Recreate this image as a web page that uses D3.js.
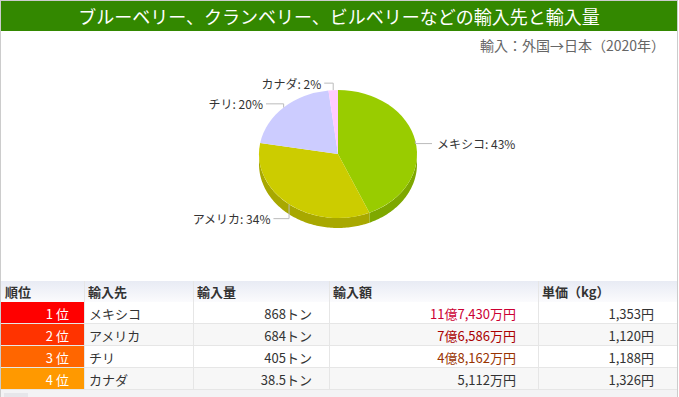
<!DOCTYPE html>
<html>
<head>
<meta charset="utf-8">
<script src="https://cdn.jsdelivr.net/npm/d3@7"></script>
<style>
  body { margin: 0; background: #fff; }
  svg { display: block; font-family: "Noto Sans CJK JP", "Noto Sans", sans-serif; }
</style>
</head>
<body>
<div id="chart"></div>
<script>
// chart texts
const title = "ブルーベリー、クランベリー、ビルベリーなどの輸入先と輸入量";
const subtitle = "輸入：外国→日本（2020年）";

// table / pie data
const headers = ["順位", "輸入先", "輸入量", "輸入額", "単価（kg）"];
const ranks = ["1 位", "2 位", "3 位", "4 位"];
const countries = ["メキシコ", "アメリカ", "チリ", "カナダ"];
const volumes = [868, 684, 405, 38.5]; // tons
const volumeLabels = ["868トン", "684トン", "405トン", "38.5トン"];
const amounts = ["11億7,430万円", "7億6,586万円", "4億8,162万円", "5,112万円"];
const unitPrices = ["1,353円", "1,120円", "1,188円", "1,326円"];

// colours
const sliceColors = ["#99cc00", "#cccc00", "#ccccff", "#ffccff"];
const rankColors = ["#ff0000", "#ff3300", "#ff6600", "#ff9900"];
const amountColors = ["#cc0033", "#aa0000", "#993300", "#333333"];

function draw(id) {
  const W = 679, H = 397;
  const svg = d3.select(`#${id}`).append("svg").attr("width", W).attr("height", H);

  // outer frame + title bar
  svg.append("rect").attr("x", 0.5).attr("y", 0.5).attr("width", 677).attr("height", H)
    .attr("fill", "#fff").attr("stroke", "#cccccc");
  svg.append("rect").attr("x", 1).attr("y", 1).attr("width", 676).attr("height", 30).attr("fill", "#338800");
  svg.append("text").attr("x", 339).attr("y", 16).attr("text-anchor", "middle")
    .attr("dominant-baseline", "central").attr("fill", "#fff").attr("font-size", 18)
    .text(title);
  svg.append("text").attr("x", 665).attr("y", 45).attr("text-anchor", "end")
    .attr("dominant-baseline", "central").attr("fill", "#666").attr("font-size", 14)
    .text(subtitle);

  // ---- 3D-ish pie ----
  const cx = 338, cy = 154, rx = 79, ry = 64, depth = 10;
  const total = d3.sum(volumes);
  const arcs = d3.pie().sort(null).value((d) => d)(volumes);
  const pt = (a, dy = 0) => [cx + rx * Math.sin(a), cy - ry * Math.cos(a) + dy];

  // side wall, only the front half (angles between 90 and 270 deg) is visible
  const side = svg.append("g");
  arcs.forEach((d, i) => {
    const a0 = Math.max(d.startAngle, Math.PI / 2);
    const a1 = Math.min(d.endAngle, Math.PI * 1.5);
    if (a1 <= a0) return;
    const steps = d3.range(a0, a1, 0.02).concat(a1);
    const top = steps.map((a) => pt(a));
    const bottom = steps.slice().reverse().map((a) => pt(a, depth));
    side.append("path")
      .attr("d", d3.line()(top.concat(bottom)) + "Z")
      .attr("fill", d3.color(sliceColors[i]).darker(0.55));
  });

  // top face: circle arcs squashed vertically
  const face = svg.append("g").attr("transform", `translate(${cx},${cy}) scale(1,${ry / rx})`);
  const arc = d3.arc().innerRadius(0).outerRadius(rx);
  face.selectAll("path").data(arcs).join("path")
    .attr("d", arc)
    .attr("fill", (d, i) => sliceColors[i]);

  // data labels with connectors
  const labels = svg.append("g").attr("font-size", 12).attr("fill", "#333");
  arcs.forEach((d, i) => {
    const mid = (d.startAngle + d.endAngle) / 2;
    const p = pt(mid);
    const right = Math.sin(mid) >= 0;
    const lx = cx + (rx + 30) * Math.sin(mid);
    const ly = cy + 5 - (ry + 12) * Math.cos(mid);
    const tx = right ? cx + rx + 20 : Math.min(lx, p[0] - 12);
    const edge = right ? tx - 5 : tx + 3;
    labels.append("path")
      .attr("d", d3.line()([[edge, ly], [p[0], ly], p]))
      .attr("fill", "none").attr("stroke", "#bbbbbb").attr("stroke-width", 1);
    labels.append("text")
      .attr("x", tx).attr("y", ly)
      .attr("text-anchor", right ? "start" : "end")
      .attr("dominant-baseline", "central")
      .text(`${countries[i]}: ${Math.round((d.value / total) * 100)}%`);
  });

  // ---- table ----
  const colEdges = [1, 84, 193, 329, 538, 677];
  const headTop = 281, headH = 21;
  const y = d3.scaleBand().domain(ranks).range([302, 390]);

  const defs = svg.append("defs");
  const grad = defs.append("linearGradient").attr("id", "headGrad")
    .attr("x1", 0).attr("y1", 0).attr("x2", 0).attr("y2", 1);
  grad.append("stop").attr("offset", "0%").attr("stop-color", "#e8ebf4");
  grad.append("stop").attr("offset", "100%").attr("stop-color", "#fbfbfd");

  const table = svg.append("g").attr("font-size", 13);
  table.append("rect").attr("x", 1).attr("y", headTop).attr("width", 676).attr("height", headH)
    .attr("fill", "url(#headGrad)");
  headers.forEach((h, c) => {
    table.append("text").attr("x", colEdges[c] + 4).attr("y", headTop + headH / 2)
      .attr("dominant-baseline", "central").attr("font-weight", "bold").attr("fill", "#333")
      .text(h);
  });

  // striped rows
  ranks.forEach((r, i) => {
    table.append("rect").attr("x", 1).attr("y", y(r)).attr("width", 676).attr("height", y.bandwidth())
      .attr("fill", i % 2 ? "#f7f7f7" : "#ffffff");
  });

  // grid lines
  ranks.forEach((r) => {
    table.append("line").attr("x1", 1).attr("x2", 677)
      .attr("y1", y(r) + y.bandwidth() - 0.5).attr("y2", y(r) + y.bandwidth() - 0.5)
      .attr("stroke", "#e6e6e6");
  });
  colEdges.slice(1, -1).forEach((x) => {
    table.append("line").attr("x1", x + 0.5).attr("x2", x + 0.5)
      .attr("y1", headTop).attr("y2", 390).attr("stroke", "#e6e6e6");
  });

  // rank cells
  table.selectAll(".rank").data(ranks).join("rect")
    .attr("x", 1).attr("y", (d) => y(d)).attr("width", colEdges[1] - 1).attr("height", y.bandwidth() - 1)
    .attr("fill", (d, i) => rankColors[i]);
  table.selectAll(".rankText").data(ranks).join("text")
    .attr("x", 69).attr("y", (d) => y(d) + y.bandwidth() / 2)
    .attr("text-anchor", "end").attr("dominant-baseline", "central").attr("fill", "#fff")
    .text((d) => d);

  const cell = (vals, x, anchor, colors) => {
    table.append("g").selectAll("text").data(vals).join("text")
      .attr("x", x).attr("y", (d, i) => y(ranks[i]) + y.bandwidth() / 2)
      .attr("text-anchor", anchor).attr("dominant-baseline", "central")
      .attr("fill", (d, i) => (colors ? colors[i] : "#333"))
      .text((d) => d);
  };
  cell(countries, colEdges[1] + 5, "start");
  cell(volumeLabels, colEdges[3] - 17, "end");
  cell(amounts, colEdges[4] - 22, "end", amountColors);
  cell(unitPrices, colEdges[5] - 23, "end");

  // bottom strip
  svg.append("rect").attr("x", 1).attr("y", 390).attr("width", 676).attr("height", 7).attr("fill", "#f3f3f5");
  svg.append("rect").attr("x", 4).attr("y", 393).attr("width", 24).attr("height", 4).attr("fill", "#e6e6ea");
}

document.addEventListener("DOMContentLoaded", function () {
  draw("chart");
});
</script>
</body>
</html>
